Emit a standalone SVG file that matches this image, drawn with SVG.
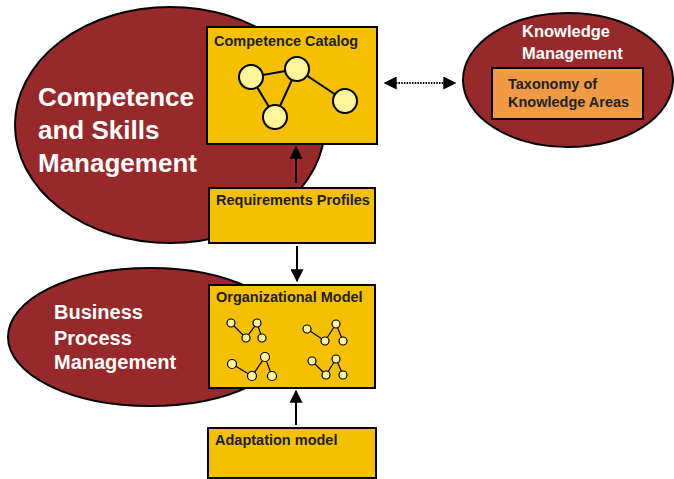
<svg xmlns="http://www.w3.org/2000/svg" width="674" height="479" viewBox="0 0 674 479">
  <style>
    .area { fill: #98292B; stroke: #000; stroke-width: 2; }
    .box { fill: #F5C000; stroke: #000; stroke-width: 2; }
    .tax { fill: #F09A45; stroke: #000; stroke-width: 2; }
    .area-label { font-family: "Liberation Sans", Arial, sans-serif; font-weight: bold; fill: #fff; }
    .box-label { font-family: "Liberation Sans", Arial, sans-serif; font-weight: bold; fill: #222; font-size: 14.5px; }
    .node { fill: #FFF69A; stroke: #000; stroke-width: 2; }
    .snode { fill: #FFF69A; stroke: #000; stroke-width: 1.2; }
    .edge { stroke: #000; stroke-width: 2; fill: none; }
    .sedge { stroke: #000; stroke-width: 1.2; fill: none; }
    .flow { stroke: #000; stroke-width: 2; fill: none; }
  </style>
  <defs>
    <marker id="arrow" viewBox="0 0 10 10" refX="9" refY="5" markerWidth="6.5" markerHeight="6.5" orient="auto" markerUnits="strokeWidth">
      <path d="M0,0 L10,5 L0,10 z" fill="#000"/>
    </marker>
    <marker id="arrow-start" viewBox="0 0 10 10" refX="1" refY="5" markerWidth="6.5" markerHeight="6.5" orient="auto" markerUnits="strokeWidth">
      <path d="M10,0 L0,5 L10,10 z" fill="#000"/>
    </marker>
  </defs>

  <!-- Competence and Skills Management area -->
  <g id="competence-skills">
    <ellipse class="area" cx="170" cy="125" rx="155" ry="118"/>
    <text class="area-label" font-size="26" x="38" y="106">Competence</text>
    <text class="area-label" font-size="26" x="38" y="139">and Skills</text>
    <text class="area-label" font-size="26" x="38" y="172">Management</text>
  </g>

  <!-- Business Process Management area -->
  <g id="business-process">
    <ellipse class="area" cx="150" cy="337" rx="142" ry="69"/>
    <text class="area-label" font-size="20" x="54" y="319">Business</text>
    <text class="area-label" font-size="20" x="54" y="345">Process</text>
    <text class="area-label" font-size="20" x="54" y="369">Management</text>
  </g>

  <!-- Knowledge Management area -->
  <g id="knowledge-management">
    <ellipse class="area" cx="568" cy="80" rx="105" ry="67"/>
    <text class="area-label" font-size="16.5" x="522" y="37">Knowledge</text>
    <text class="area-label" font-size="16.5" x="522" y="59">Management</text>
  </g>
  <g id="taxonomy">
    <rect class="tax" x="492" y="68" width="151" height="51"/>
    <text class="box-label" x="508" y="89">Taxonomy of</text>
    <text class="box-label" x="508" y="107">Knowledge Areas</text>
  </g>

  <!-- Competence Catalog -->
  <g id="competence-catalog">
    <rect class="box" x="207" y="27" width="170" height="117"/>
    <text class="box-label" x="214" y="46">Competence Catalog</text>
    <line class="edge" x1="251" y1="77" x2="297" y2="69"/>
    <line class="edge" x1="251" y1="77" x2="275" y2="117"/>
    <line class="edge" x1="297" y1="69" x2="275" y2="117"/>
    <line class="edge" x1="297" y1="69" x2="345" y2="101"/>
    <circle class="node" cx="251" cy="77" r="12"/>
    <circle class="node" cx="297" cy="69" r="12"/>
    <circle class="node" cx="345" cy="101" r="12"/>
    <circle class="node" cx="275" cy="117" r="12"/>
  </g>

  <!-- Requirements Profiles -->
  <g id="requirements-profiles">
    <rect class="box" x="209" y="188" width="166" height="55"/>
    <text class="box-label" x="216" y="205">Requirements Profiles</text>
  </g>

  <!-- Organizational Model -->
  <g id="organizational-model">
    <rect class="box" x="209" y="285" width="166" height="103"/>
    <text class="box-label" x="216" y="302">Organizational Model</text>
    <polyline class="sedge" points="231,323 246,338 257,323 262,338"/>
    <circle class="snode" cx="231" cy="323" r="4"/>
    <circle class="snode" cx="246" cy="338" r="4"/>
    <circle class="snode" cx="257" cy="323" r="4"/>
    <circle class="snode" cx="262" cy="338" r="4"/>
    <polyline class="sedge" points="307,329 325,341 336,324 343,341"/>
    <circle class="snode" cx="307" cy="329" r="4"/>
    <circle class="snode" cx="325" cy="341" r="4"/>
    <circle class="snode" cx="336" cy="324" r="4"/>
    <circle class="snode" cx="343" cy="341" r="4"/>
    <polyline class="sedge" points="232,364 252,376 265,357 272,376"/>
    <circle class="snode" cx="232" cy="364" r="4.5"/>
    <circle class="snode" cx="252" cy="376" r="4.5"/>
    <circle class="snode" cx="265" cy="357" r="4.5"/>
    <circle class="snode" cx="272" cy="376" r="4.5"/>
    <polyline class="sedge" points="312,361 326,375 336,359 343,375"/>
    <circle class="snode" cx="312" cy="361" r="4"/>
    <circle class="snode" cx="326" cy="375" r="4"/>
    <circle class="snode" cx="336" cy="359" r="4"/>
    <circle class="snode" cx="343" cy="375" r="4"/>
  </g>

  <!-- Adaptation model -->
  <g id="adaptation-model">
    <rect class="box" x="208" y="428" width="168" height="50"/>
    <text class="box-label" x="215" y="445">Adaptation model</text>
  </g>

  <!-- Connectors -->
  <g id="connectors">
    <line class="flow" x1="296" y1="183" x2="296" y2="147" marker-end="url(#arrow)"/>
    <line class="flow" x1="297" y1="246" x2="297" y2="281" marker-end="url(#arrow)"/>
    <line class="flow" x1="296" y1="425" x2="296" y2="391" marker-end="url(#arrow)"/>
    <line class="flow" x1="385" y1="83" x2="455" y2="83" stroke-dasharray="1.5,1.2" marker-start="url(#arrow-start)" marker-end="url(#arrow)"/>
  </g>
</svg>
